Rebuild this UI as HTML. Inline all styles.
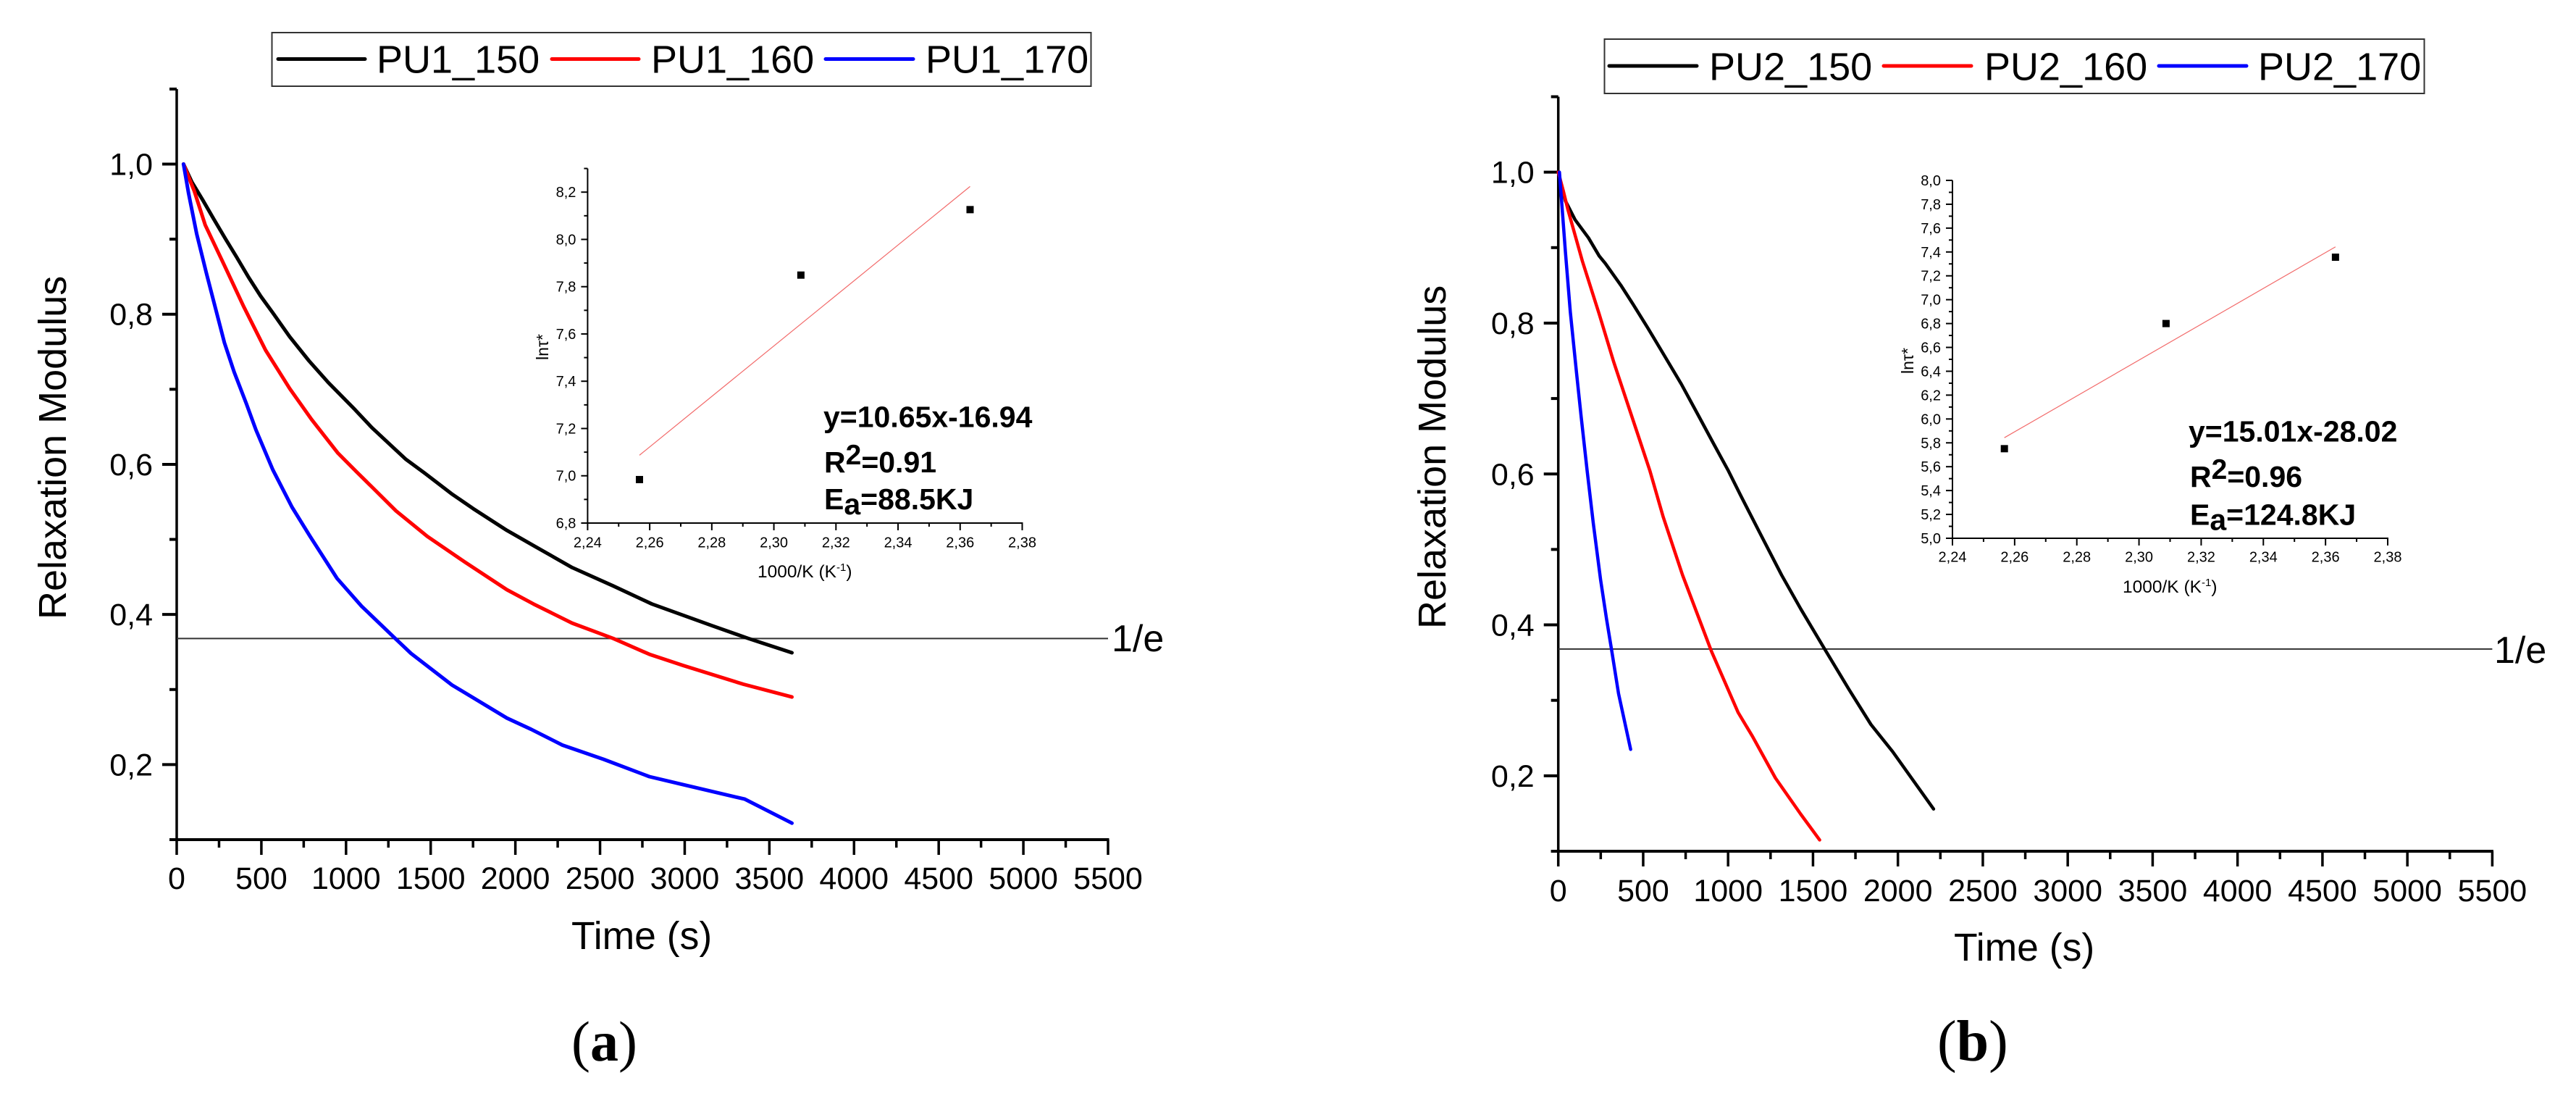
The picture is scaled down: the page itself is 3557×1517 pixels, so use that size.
<!DOCTYPE html>
<html lang="en">
<head>
<meta charset="utf-8">
<title>Relaxation Modulus</title>
<style>
html,body{margin:0;padding:0;background:#fff;width:3557px;height:1517px;overflow:hidden}
svg{display:block;font-family:"Liberation Sans",Arial,sans-serif;fill:#000}
</style>
</head>
<body>
<svg id="figure" xmlns="http://www.w3.org/2000/svg" width="3557" height="1517" viewBox="0 0 3557 1517">
  <rect x="0" y="0" width="3557" height="1517" fill="#fff"/>

  <g id="panel-a">
    <g>
      <rect x="375.5" y="45" width="1131" height="74" fill="#fff" stroke="#333" stroke-width="2"/>
      <line x1="384" x2="504" y1="81.5" y2="81.5" stroke="#000" stroke-width="5" stroke-linecap="round"/>
      <text x="520" y="100.5" font-size="54">PU1_150</text>
      <line x1="762" x2="882" y1="81.5" y2="81.5" stroke="#f00" stroke-width="5" stroke-linecap="round"/>
      <text x="899" y="100.5" font-size="54">PU1_160</text>
      <line x1="1140" x2="1261" y1="81.5" y2="81.5" stroke="#00f" stroke-width="5" stroke-linecap="round"/>
      <text x="1278" y="100.5" font-size="54">PU1_170</text>
    </g>
    <text transform="translate(91 855) rotate(-90)" font-size="54">Relaxation Modulus</text>
    <text x="789" y="1310" font-size="53.5">Time (s)</text>
    <text x="1535" y="899" font-size="52">1/e</text>
    <text transform="translate(757 497) rotate(-90)" font-size="23">lnτ*</text>
    <text x="1046" y="797" font-size="24.5">1000/K (K<tspan dy="-9" font-size="15">-1</tspan><tspan dy="9">)</tspan></text>
    <text x="1137" y="589.5" font-size="41" font-weight="bold">y=10.65x-16.94</text>
    <text x="1138" y="652" font-size="41" font-weight="bold">R<tspan dy="-11" font-size="39">2</tspan><tspan dy="11">=0.91</tspan></text>
    <text x="1138" y="703" font-size="41" font-weight="bold">E<tspan dy="7">a</tspan><tspan dy="-7">=88.5KJ</tspan></text>
    <text x="789" y="1464" font-size="78" font-family="'Liberation Serif',serif">(<tspan font-weight="bold">a</tspan>)</text>
  </g>

  <g id="panel-b">
    <g>
      <rect x="2215.5" y="54" width="1132" height="75" fill="#fff" stroke="#333" stroke-width="2"/>
      <line x1="2222" x2="2343" y1="91" y2="91" stroke="#000" stroke-width="5" stroke-linecap="round"/>
      <text x="2360" y="110.5" font-size="54">PU2_150</text>
      <line x1="2601" x2="2722" y1="91" y2="91" stroke="#f00" stroke-width="5" stroke-linecap="round"/>
      <text x="2740" y="110.5" font-size="54">PU2_160</text>
      <line x1="2981" x2="3102" y1="91" y2="91" stroke="#00f" stroke-width="5" stroke-linecap="round"/>
      <text x="3118" y="110.5" font-size="54">PU2_170</text>
    </g>
    <text transform="translate(1996 868) rotate(-90)" font-size="54">Relaxation Modulus</text>
    <text x="2698" y="1326" font-size="53.5">Time (s)</text>
    <text x="3444" y="915" font-size="52">1/e</text>
    <text transform="translate(2642 516) rotate(-90)" font-size="23">lnτ*</text>
    <text x="2931" y="818" font-size="24.5">1000/K (K<tspan dy="-9" font-size="15">-1</tspan><tspan dy="9">)</tspan></text>
    <text x="3022" y="609.5" font-size="41" font-weight="bold">y=15.01x-28.02</text>
    <text x="3024" y="672" font-size="41" font-weight="bold">R<tspan dy="-11" font-size="39">2</tspan><tspan dy="11">=0.96</tspan></text>
    <text x="3024" y="724.5" font-size="41" font-weight="bold">E<tspan dy="7">a</tspan><tspan dy="-7">=124.8KJ</tspan></text>
    <text x="2675" y="1464" font-size="80" font-family="'Liberation Serif',serif">(<tspan font-weight="bold">b</tspan>)</text>
  </g>
</svg>

<script>
// ---- shared tick data ----
const timeTickValues = [0, 500, 1000, 1500, 2000, 2500, 3000, 3500, 4000, 4500, 5000, 5500];
const timeTickLabels = ["0", "500", "1000", "1500", "2000", "2500", "3000", "3500", "4000", "4500", "5000", "5500"];
const timeMinorTicks = [250, 750, 1250, 1750, 2250, 2750, 3250, 3750, 4250, 4750, 5250];
const modulusTickValues = [0.2, 0.4, 0.6, 0.8, 1.0];
const modulusTickLabels = ["0,2", "0,4", "0,6", "0,8", "1,0"];
const modulusMinorTicks = [0.1, 0.3, 0.5, 0.7, 0.9, 1.1];
const oneOverE = 0.368;

// ---- panel (a) main series ----
const timePU1_150 = [40, 90, 154, 218, 289, 354, 425, 496, 567, 667, 781, 895, 952, 1052, 1152, 1252, 1352, 1466, 1622, 1751, 1950, 2121, 2335, 2578, 2806, 3162, 3376, 3633];
const modulusPU1_150 = [1.0, 0.976, 0.952, 0.927, 0.900, 0.876, 0.849, 0.824, 0.802, 0.770, 0.738, 0.709, 0.696, 0.673, 0.649, 0.628, 0.607, 0.588, 0.561, 0.541, 0.512, 0.490, 0.4625, 0.438, 0.414, 0.385, 0.368, 0.349];
const timePU1_160 = [40, 104, 168, 282, 396, 525, 667, 796, 952, 1066, 1152, 1295, 1480, 1700, 1950, 2107, 2335, 2578, 2791, 2991, 3347, 3633];
const modulusPU1_160 = [1.0, 0.964, 0.919, 0.865, 0.810, 0.752, 0.701, 0.660, 0.615, 0.589, 0.570, 0.538, 0.504, 0.470, 0.433, 0.414, 0.3885, 0.368, 0.347, 0.332, 0.307, 0.290];
const timePU1_170 = [40, 70, 118, 175, 230, 282, 339, 411, 468, 567, 681, 788, 947, 1092, 1286, 1384, 1626, 1950, 2093, 2278, 2521, 2791, 2977, 3355, 3633];
const modulusPU1_170 = [1.0, 0.961, 0.907, 0.855, 0.807, 0.762, 0.723, 0.681, 0.646, 0.593, 0.543, 0.504, 0.448, 0.411, 0.369, 0.348, 0.306, 0.262, 0.247, 0.226, 0.207, 0.184, 0.174, 0.154, 0.122];

// ---- panel (b) main series ----
const timePU2_150 = [0, 42, 99, 178, 241, 277, 369, 440, 526, 611, 725, 824, 910, 1002, 1073, 1187, 1315, 1428, 1571, 1713, 1841, 1969, 2210];
const modulusPU2_150 = [1.0, 0.962, 0.937, 0.913, 0.889, 0.879, 0.850, 0.825, 0.794, 0.762, 0.719, 0.678, 0.642, 0.604, 0.572, 0.522, 0.466, 0.421, 0.367, 0.314, 0.268, 0.232, 0.156];
const timePU2_160 = [0, 30, 57, 142, 241, 327, 398, 469, 540, 618, 732, 902, 1059, 1144, 1279, 1428, 1539];
const modulusPU2_160 = [1.0, 0.975, 0.950, 0.882, 0.812, 0.748, 0.700, 0.652, 0.604, 0.543, 0.466, 0.365, 0.284, 0.252, 0.197, 0.149, 0.115];
const timePU2_170 = [7, 42, 71, 107, 135, 170, 206, 249, 284, 314, 355, 426];
const modulusPU2_170 = [1.0, 0.895, 0.815, 0.735, 0.675, 0.604, 0.535, 0.460, 0.408, 0.367, 0.309, 0.235];

// ---- inset data ----
const insetXTickValues = [2.24, 2.26, 2.28, 2.30, 2.32, 2.34, 2.36, 2.38];
const insetXTickLabels = ["2,24", "2,26", "2,28", "2,30", "2,32", "2,34", "2,36", "2,38"];
const insetXMinorTicks = [2.25, 2.27, 2.29, 2.31, 2.33, 2.35, 2.37];
const insetATickValues = [6.8, 7.0, 7.2, 7.4, 7.6, 7.8, 8.0, 8.2];
const insetATickLabels = ["6,8", "7,0", "7,2", "7,4", "7,6", "7,8", "8,0", "8,2"];
const insetAMinorTicks = [6.9, 7.1, 7.3, 7.5, 7.7, 7.9, 8.1, 8.3];
const insetBTickValues = [5.0, 5.2, 5.4, 5.6, 5.8, 6.0, 6.2, 6.4, 6.6, 6.8, 7.0, 7.2, 7.4, 7.6, 7.8, 8.0];
const insetBTickLabels = ["5,0", "5,2", "5,4", "5,6", "5,8", "6,0", "6,2", "6,4", "6,6", "6,8", "7,0", "7,2", "7,4", "7,6", "7,8", "8,0"];
const insetBMinorTicks = [5.1, 5.3, 5.5, 5.7, 5.9, 6.1, 6.3, 6.5, 6.7, 6.9, 7.1, 7.3, 7.5, 7.7, 7.9];
const inverseTemperature = [2.2567, 2.3087, 2.3632];
const lnTauA = [6.984, 7.849, 8.126];
const lnTauB = [5.751, 6.800, 7.356];
const fitXEnds = [2.2567, 2.3632];
const fitYEndsA = [7.087, 8.224];
const fitYEndsB = [5.843, 7.443];

// ---- rendering ----
const NS = "http://www.w3.org/2000/svg";

function scale(d0, d1, r0, r1) {
  return function (v) { return r0 + (v - d0) * (r1 - r0) / (d1 - d0); };
}
function make(tag, attrs, parent) {
  const n = document.createElementNS(NS, tag);
  for (const k in attrs) n.setAttribute(k, attrs[k]);
  parent.appendChild(n);
  return n;
}

function drawMainAxes(parent, x, y, suffix, labelBaseline) {
  const yAxis = make("line", {x1: x(0), x2: x(0), y1: y(1.1), y2: y(0.1), stroke: "#000", "stroke-width": 3.5}, parent);
  
  
  const xAxis = make("line", {x1: x(0) - 10, x2: x(5500) + 1.5, y1: y(0.1), y2: y(0.1), stroke: "#000", "stroke-width": 4}, parent);
  
  

  timeTickValues.forEach(function (v, i) {
    const t = make("line", {x1: x(v), x2: x(v), y1: y(0.1), y2: y(0.1) + 21, stroke: "#000", "stroke-width": 3.5}, parent);
    
    
    const l = make("text", {x: x(v), y: labelBaseline, "font-size": 43, "text-anchor": "middle"}, parent);
    
    
    l.textContent = timeTickLabels[i];
  });
  timeMinorTicks.forEach(function (v) {
    const t = make("line", {x1: x(v), x2: x(v), y1: y(0.1), y2: y(0.1) + 11, stroke: "#000", "stroke-width": 3.5}, parent);
    
    
  });
  modulusTickValues.forEach(function (v, i) {
    const t = make("line", {x1: x(0) - 20, x2: x(0), y1: y(v), y2: y(v), stroke: "#000", "stroke-width": 4}, parent);
    
    
    const l = make("text", {x: x(0) - 33, y: y(v) + 15, "font-size": 43, "text-anchor": "end"}, parent);
    
    
    l.textContent = modulusTickLabels[i];
  });
  modulusMinorTicks.forEach(function (v) {
    const t = make("line", {x1: x(0) - 10, x2: x(0), y1: y(v), y2: y(v), stroke: "#000", "stroke-width": 4}, parent);
    
    
  });
  const ref = make("line", {x1: x(0), x2: x(5500), y1: y(oneOverE), y2: y(oneOverE), stroke: "#333", "stroke-width": 2}, parent);
  
  
}

function drawSeries(parent, x, y, ts, vs, color, width, name) {
  const pts = ts.map(function (t, i) { return x(t).toFixed(1) + "," + y(vs[i]).toFixed(1); }).join(" ");
  const p = make("polyline", {points: pts, fill: "none", stroke: color, "stroke-width": width, "stroke-linejoin": "round", "stroke-linecap": "round"}, parent);
  
  
}

function drawInset(parent, x, y, yDomain, yVals, yLabels, yMinors, pts, fitY, suffix, xLabelBaseline) {
  const ya = make("line", {x1: x(2.24), x2: x(2.24), y1: y(yDomain[0]), y2: y(yDomain[1]), stroke: "#000", "stroke-width": 2}, parent);
  
  
  const xa = make("line", {x1: x(2.24) - 1, x2: x(2.38) + 1, y1: y(yDomain[0]), y2: y(yDomain[0]), stroke: "#000", "stroke-width": 2}, parent);
  
  

  insetXTickValues.forEach(function (v, i) {
    const t = make("line", {x1: x(v), x2: x(v), y1: y(yDomain[0]), y2: y(yDomain[0]) + 10, stroke: "#000", "stroke-width": 2}, parent);
    
    
    const l = make("text", {x: x(v), y: xLabelBaseline, "font-size": 20, "text-anchor": "middle"}, parent);
    
    
    l.textContent = insetXTickLabels[i];
  });
  insetXMinorTicks.forEach(function (v) {
    const t = make("line", {x1: x(v), x2: x(v), y1: y(yDomain[0]), y2: y(yDomain[0]) + 5, stroke: "#000", "stroke-width": 2}, parent);
    
    
  });
  yVals.forEach(function (v, i) {
    const t = make("line", {x1: x(2.24) - 9, x2: x(2.24), y1: y(v), y2: y(v), stroke: "#000", "stroke-width": 2}, parent);
    
    
    const l = make("text", {x: x(2.24) - 16, y: y(v) + 7, "font-size": 20, "text-anchor": "end"}, parent);
    
    
    l.textContent = yLabels[i];
  });
  yMinors.forEach(function (v) {
    const t = make("line", {x1: x(2.24) - 5, x2: x(2.24), y1: y(v), y2: y(v), stroke: "#000", "stroke-width": 2}, parent);
    
    
  });
  const fit = make("line", {x1: x(fitXEnds[0]), x2: x(fitXEnds[1]), y1: y(fitY[0]), y2: y(fitY[1]), stroke: "#f26a6a", "stroke-width": 1.2}, parent);
  
  
  inverseTemperature.forEach(function (v, i) {
    const s = make("rect", {x: x(v) - 5, y: y(pts[i]) - 5, width: 10, height: 10, fill: "#000"}, parent);
    
    
  });
}

const groupA = document.getElementById("panel-a");
const groupB = document.getElementById("panel-b");

// panel a
const xA = scale(0, 5500, 244, 1530);
const yA = scale(0.1, 1.1, 1159, 122.9);
drawMainAxes(groupA, xA, yA, "a", 1227);
drawSeries(groupA, xA, yA, timePU1_150, modulusPU1_150, "#000", 5, "series-pu1-150");
drawSeries(groupA, xA, yA, timePU1_160, modulusPU1_160, "#f00", 5, "series-pu1-160");
drawSeries(groupA, xA, yA, timePU1_170, modulusPU1_170, "#00f", 5, "series-pu1-170");
const insetXA = scale(2.24, 2.38, 811.4, 1411.5);
const insetYA = scale(6.8, 8.2, 722, 265.2);
drawInset(groupA, insetXA, insetYA, [6.8, 8.3], insetATickValues, insetATickLabels, insetAMinorTicks, lnTauA, fitYEndsA, "a", 755.5);

// panel b
const xB = scale(0, 5500, 2151.7, 3441.4);
const yB = scale(0.1, 1.1, 1175, 133.5);
drawMainAxes(groupB, xB, yB, "b", 1244);
drawSeries(groupB, xB, yB, timePU2_150, modulusPU2_150, "#000", 4.5, "series-pu2-150");
drawSeries(groupB, xB, yB, timePU2_160, modulusPU2_160, "#f00", 4.5, "series-pu2-160");
drawSeries(groupB, xB, yB, timePU2_170, modulusPU2_170, "#00f", 4.5, "series-pu2-170");
const insetXB = scale(2.24, 2.38, 2696, 3297);
const insetYB = scale(5.0, 8.0, 743, 249);
drawInset(groupB, insetXB, insetYB, [5.0, 8.0], insetBTickValues, insetBTickLabels, insetBMinorTicks, lnTauB, fitYEndsB, "b", 775.5);
</script>
</body>
</html>
